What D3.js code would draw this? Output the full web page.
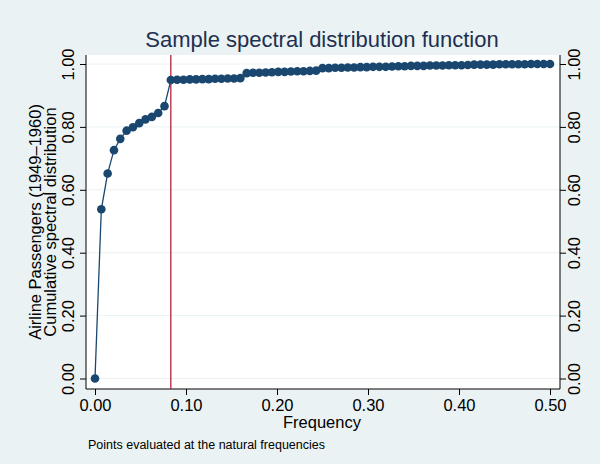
<!DOCTYPE html>
<html><head><meta charset="utf-8">
<script src="https://cdn.jsdelivr.net/npm/d3@7"></script>
<style>html,body{margin:0;padding:0;background:#eaf2f3;} svg{display:block;font-family:"Liberation Sans",Arial,sans-serif;}</style>
</head><body>
<svg id="c" width="600" height="464"></svg>
<script>
// natural frequencies k/144, k = 0..72
const nObs = 144;
const cumValues = [
 0.000, 0.538, 0.652, 0.726, 0.762, 0.788, 0.799, 0.812, 0.824, 0.832, 0.844, 0.866, 0.949,
 0.950, 0.950, 0.951, 0.951, 0.952, 0.952, 0.953, 0.953, 0.954, 0.954, 0.955,
 0.971, 0.972, 0.972, 0.973, 0.974, 0.975, 0.975, 0.976, 0.977, 0.977, 0.978, 0.979,
 0.987, 0.987, 0.988, 0.988, 0.989, 0.989, 0.990, 0.990, 0.991, 0.991, 0.991, 0.992,
 0.993, 0.993, 0.994, 0.994, 0.994, 0.995, 0.995, 0.995, 0.996, 0.996, 0.996, 0.997,
 0.998, 0.998, 0.998, 0.998, 0.999, 0.999, 0.999, 0.999, 0.999, 1.000, 1.000, 1.000, 1.000
];
const xTicks = [0, 0.1, 0.2, 0.3, 0.4, 0.5];
const yTicks = [0, 0.2, 0.4, 0.6, 0.8, 1.0];
const refLine = 1/12;
const titleText = "Sample spectral distribution function";
const yTitle = ["Airline Passengers (1949\u20131960)", "Cumulative spectral distribution"];
const xTitle = "Frequency";
const noteText = "Points evaluated at the natural frequencies";

const data = cumValues.map((v, k) => ({f: k / nObs, v}));

const svg = d3.select("#c");
const W = 600, H = 464;
const plot = {l: 86, r: 560, t: 55, b: 389};
const x = d3.scaleLinear().domain([0, 0.5]).range([95, 550]);
const y = d3.scaleLinear().domain([0, 1]).range([378.5, 64]);
const navy = "#1a476f";
const fs = "16.5px";

svg.append("rect").attr("width", W).attr("height", H).attr("fill", "#eaf2f3");
svg.append("rect").attr("x", plot.l).attr("y", plot.t).attr("width", plot.r - plot.l).attr("height", plot.b - plot.t).attr("fill", "#fff");

// gridlines
svg.append("g").selectAll("line").data(yTicks).join("line")
  .attr("x1", plot.l).attr("x2", plot.r).attr("y1", d => y(d)).attr("y2", d => y(d))
  .attr("stroke", "#eaf2f3").attr("stroke-width", 1);

// axes
const fmt = d3.format(".2f");
const gx = svg.append("g").attr("transform", `translate(0,${plot.b})`)
  .call(d3.axisBottom(x).tickValues(xTicks).tickFormat(fmt).tickSize(6).tickPadding(4));
const gl = svg.append("g").attr("transform", `translate(${plot.l},0)`)
  .call(d3.axisLeft(y).tickValues(yTicks).tickFormat(fmt).tickSize(6).tickPadding(4));
const gr = svg.append("g").attr("transform", `translate(${plot.r},0)`)
  .call(d3.axisRight(y).tickValues(yTicks).tickFormat(fmt).tickSize(6).tickPadding(4));
[gx, gl, gr].forEach(g => {
  g.select(".domain").remove();
  g.selectAll(".tick line").attr("stroke", "#000");
  g.selectAll(".tick text").attr("fill", "#000").style("font-size", fs).style("font-family", "Liberation Sans, Arial, sans-serif");
});
// axis lines spanning the plot
svg.append("line").attr("x1", plot.l).attr("x2", plot.r).attr("y1", plot.b).attr("y2", plot.b).attr("stroke", "#000");
svg.append("line").attr("x1", plot.l).attr("x2", plot.l).attr("y1", plot.t).attr("y2", plot.b).attr("stroke", "#000");
svg.append("line").attr("x1", plot.r).attr("x2", plot.r).attr("y1", plot.t).attr("y2", plot.b).attr("stroke", "#000");

// rotate y tick labels
gl.selectAll(".tick text").attr("x", null).attr("dy", null)
  .attr("text-anchor", "middle").attr("transform", "translate(-12,0) rotate(-90)").attr("dy", "0");
gr.selectAll(".tick text").attr("x", null).attr("dy", null)
  .attr("text-anchor", "middle").attr("transform", "translate(20,0) rotate(-90)").attr("dy", "0");

// reference line
svg.append("line").attr("x1", x(refLine)).attr("x2", x(refLine)).attr("y1", plot.t).attr("y2", plot.b)
  .attr("stroke", "#b0102f").attr("stroke-width", 1.2);

// connected line + markers
svg.append("path").datum(data)
  .attr("d", d3.line().x(d => x(d.f)).y(d => y(d.v)))
  .attr("fill", "none").attr("stroke", navy).attr("stroke-width", 1.3);
svg.append("g").selectAll("circle").data(data).join("circle")
  .attr("cx", d => x(d.f)).attr("cy", d => y(d.v)).attr("r", 4.3).attr("fill", navy);

// titles
svg.append("text").attr("x", 322).attr("y", 47).attr("text-anchor", "middle")
  .style("font-size", "22px").attr("fill", "#1e3050").text(titleText);
svg.append("text").attr("x", 322).attr("y", 428).attr("text-anchor", "middle")
  .style("font-size", fs).attr("fill", "#000").text(xTitle);
svg.append("text").attr("x", 88).attr("y", 449)
  .style("font-size", "12.5px").attr("fill", "#000").text(noteText);
yTitle.forEach((t, i) => {
  svg.append("text").attr("transform", `translate(${41 + i * 14.5},${(plot.t + plot.b) / 2}) rotate(-90)`)
    .attr("text-anchor", "middle").style("font-size", fs).attr("fill", "#000").text(t);
});
</script>
</body></html>
